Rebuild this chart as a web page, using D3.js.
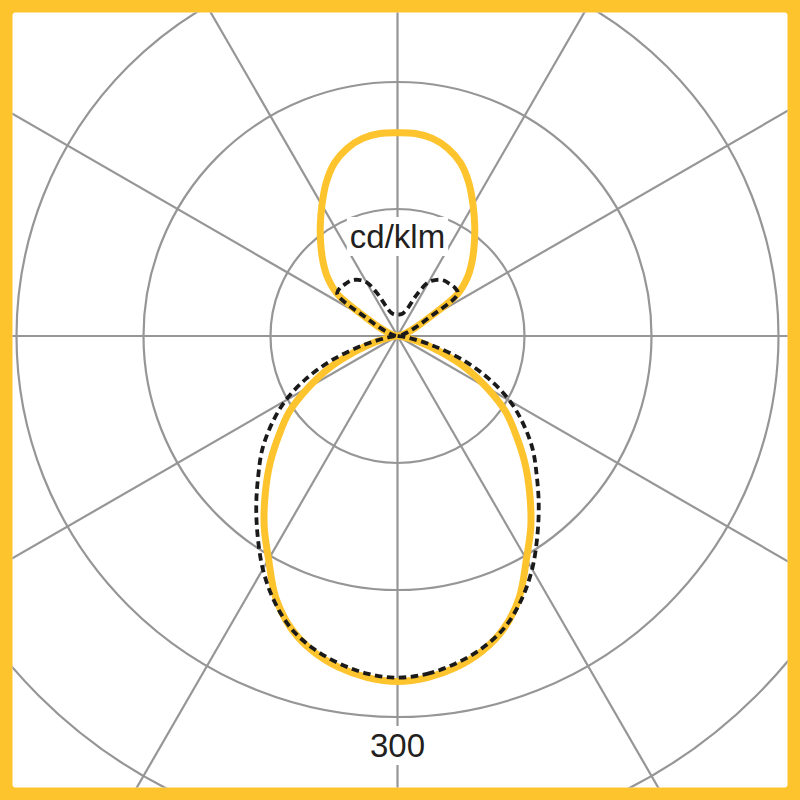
<!DOCTYPE html>
<html>
<head>
<meta charset="utf-8">
<script src="https://cdn.jsdelivr.net/npm/d3@7"></script>
<style>
    html, body { margin: 0; padding: 0; background: #fff; }
    svg { display: block; }
    text { font-family: "Liberation Sans", Arial, Helvetica, sans-serif; }
</style>
</head>
<body>
<div id="chart"></div>
<script>
// gamma angles (0 = straight down, 180 = straight up), every 5 degrees
const gammaDeg = [0, 5, 10, 15, 20, 25, 30, 35, 40, 45, 50, 55, 60, 65, 70, 75, 80, 85, 90,
    95, 100, 105, 110, 115, 120, 125, 130, 135, 140, 145, 150, 155, 160, 165, 170, 175, 180];

// C0-C180 plane (yellow solid), cd/klm
const planeC0 = [272, 270, 265, 257, 245, 227, 203, 183, 162, 142, 122, 104, 81, 59, 35, 17, 7, 2, 0,
    1, 2, 4, 8, 15, 28, 58, 72, 83, 94, 106, 119, 133, 145, 153, 158, 160, 160];

// C90-C270 plane (black dashed), cd/klm
const planeC90 = [269, 267, 262, 255, 245, 230, 212, 192, 173, 155, 139, 121, 102, 79, 54, 28, 10, 3, 0,
    1, 2, 4, 8, 15, 28, 58, 59, 58, 57, 54, 49, 36, 23, 19, 17.5, 17, 17];

// grid
const ringValues = [100, 200, 300, 400];
const spokeAngles = [0, 30, 60, 90, 120, 150, 180, 210, 240, 270, 300, 330];

// labels
const unitLabel = 'cd/klm';
const scaleLabel = '300';

const width = 800, height = 800;
const frame = 12.5;
const cx = 397.5, cy = 336;
const yellow = '#fec42d';
const grey = '#969696';

let r = d3.scaleLinear().domain([0, 400]).range([0, 508]);

let svg = d3.select('#chart').append('svg')
    .attr('width', width)
    .attr('height', height);

// yellow frame with a white inside
svg.append('rect')
    .attr('width', width).attr('height', height)
    .attr('fill', yellow);
svg.append('rect')
    .attr('x', frame).attr('y', frame)
    .attr('width', width - 2 * frame).attr('height', height - 2 * frame)
    .attr('rx', 3)
    .attr('fill', '#fff');

svg.append('clipPath').attr('id', 'inside')
    .append('rect')
    .attr('x', frame).attr('y', frame)
    .attr('width', width - 2 * frame).attr('height', height - 2 * frame)
    .attr('rx', 3);

let g = svg.append('g')
    .attr('clip-path', 'url(#inside)')
    .append('g')
    .attr('transform', `translate(${cx},${cy})`);

// rings
g.selectAll('circle.ring')
    .data(ringValues)
    .join('circle')
    .attr('class', 'ring')
    .attr('r', d => r(d))
    .attr('fill', 'none')
    .attr('stroke', grey)
    .attr('stroke-width', 2.2);

// spokes, long enough to run into the frame
g.selectAll('line.spoke')
    .data(spokeAngles)
    .join('line')
    .attr('class', 'spoke')
    .attr('x1', 0).attr('y1', 0)
    .attr('x2', d => r(600) * Math.sin(d * Math.PI / 180))
    .attr('y2', d => -r(600) * Math.cos(d * Math.PI / 180))
    .attr('stroke', grey)
    .attr('stroke-width', 2.2);

// labels with a white box behind them
function label(text, y, size) {
    let lg = g.append('g');
    let box = lg.append('rect').attr('fill', '#fff');
    let t = lg.append('text')
        .attr('x', 0).attr('y', y)
        .attr('text-anchor', 'middle')
        .attr('font-size', size)
        .attr('fill', '#231f20')
        .text(text);
    let bb = t.node().getBBox();
    box.attr('x', bb.x - 3).attr('y', bb.y - 1)
        .attr('width', bb.width + 6).attr('height', bb.height + 2);
}
label(unitLabel, 248 - cy, 33);
label(scaleLabel, 757 - cy, 33);

// mirror one half-plane to both sides: right side a = 180 - gamma, left side a = gamma - 180
function loopPoints(values) {
    let pts = [];
    gammaDeg.forEach((gd, i) => pts.push([(180 - gd) * Math.PI / 180, values[i]]));
    for (let i = gammaDeg.length - 2; i > 0; i--) {
        pts.push([(gammaDeg[i] - 180) * Math.PI / 180, values[i]]);
    }
    return pts;
}

let radial = d3.lineRadial()
    .angle(d => d[0])
    .radius(d => r(d[1]))
    .curve(d3.curveCatmullRomClosed.alpha(0.5));

g.append('path')
    .attr('d', radial(loopPoints(planeC0)))
    .attr('fill', 'none')
    .attr('stroke', yellow)
    .attr('stroke-width', 7)
    .attr('stroke-linejoin', 'round');

g.append('path')
    .attr('d', radial(loopPoints(planeC90)))
    .attr('fill', 'none')
    .attr('stroke', '#1a1a1a')
    .attr('stroke-width', 3.8)
    .attr('stroke-dasharray', '7.5,4.5');
</script>
</body>
</html>
